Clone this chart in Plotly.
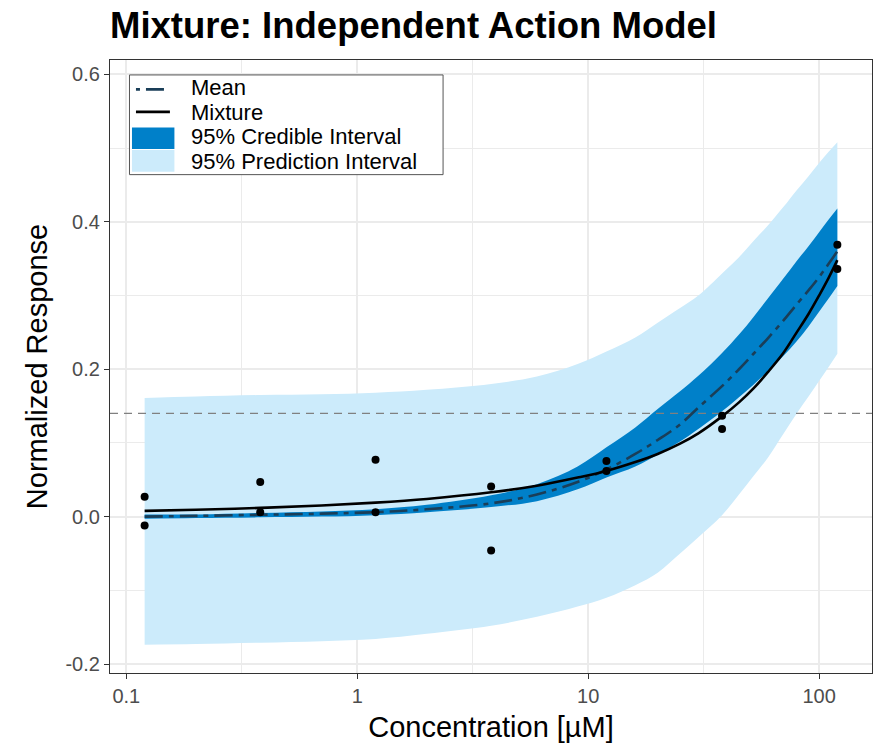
import numpy as np
import plotly.graph_objects as go

# Observed responses (two replicates per concentration)
obs_conc = [0.12, 0.12, 0.38, 0.38, 1.2, 1.2, 3.8, 3.8, 12, 12, 38, 38, 120, 120]
obs_resp = [0.027, -0.012, 0.047, 0.006, 0.077, 0.006, 0.041, -0.046,
            0.0755, 0.062, 0.137, 0.119, 0.369, 0.336]

# Model summaries on a concentration grid
grid_conc = [0.12, 0.2, 0.38, 0.7, 1.2, 2, 3.8, 6, 9, 12, 16, 20, 25, 30, 38,
             45, 52, 60, 70, 80, 90, 100, 110, 120]
pred_upper = [0.161, 0.163, 0.165, 0.166, 0.168, 0.172, 0.180, 0.190, 0.207, 0.224,
              0.243, 0.263, 0.283, 0.300, 0.330, 0.352, 0.374, 0.395, 0.420, 0.443,
              0.462, 0.480, 0.495, 0.508]
pred_lower = [-0.174, -0.173, -0.171, -0.169, -0.166, -0.159, -0.148, -0.136, -0.122,
              -0.110, -0.093, -0.076, -0.050, -0.028, 0.002, 0.030, 0.055, 0.080,
              0.112, 0.140, 0.163, 0.184, 0.203, 0.221]
cred_upper = [0.003, 0.003, 0.005, 0.007, 0.010, 0.016, 0.029, 0.044, 0.068, 0.094,
              0.121, 0.146, 0.170, 0.191, 0.222, 0.247, 0.271, 0.296, 0.323, 0.347,
              0.367, 0.386, 0.403, 0.418]
cred_lower = [-0.003, -0.002, -0.001, 0.000, 0.002, 0.006, 0.013, 0.021, 0.037, 0.053,
              0.068, 0.084, 0.102, 0.119, 0.143, 0.162, 0.179, 0.197, 0.218, 0.238,
              0.258, 0.278, 0.296, 0.313]
mean_resp = [0.000, 0.001, 0.0025, 0.004, 0.006, 0.010, 0.018, 0.030, 0.047, 0.064,
             0.085, 0.104, 0.125, 0.148, 0.177, 0.200, 0.221, 0.242, 0.266, 0.288,
             0.307, 0.325, 0.343, 0.360]
mixture_resp = [0.0078, 0.0093, 0.0118, 0.0150, 0.0190, 0.024, 0.033, 0.042, 0.053,
                0.062, 0.074, 0.085, 0.099, 0.113, 0.136, 0.155, 0.174, 0.196, 0.222,
                0.250, 0.275, 0.300, 0.324, 0.348]

threshold = 0.14

x_ticks = [0.1, 1, 10, 100]
x_ticktext = ["0.1", "1", "10", "100"]
x_minor = [0.316, 3.16, 31.6]
y_ticks = [-0.2, 0.0, 0.2, 0.4, 0.6]
y_ticktext = ["-0.2", "0.0", "0.2", "0.4", "0.6"]
y_minor = [-0.1, 0.1, 0.3, 0.5]

x_range = [-1.0708, 2.2292]   # log10 units
y_range = [-0.2122, 0.6196]

# colours
PRED_COL = "#CCEBFB"
CRED_COL = "#0080C9"
MEAN_COL = "#1A3E58"
MIX_COL = "black"

FONT = "Liberation Sans, Arial, sans-serif"
W, H = 882, 746
M_L, M_R, M_T, M_B = 110, 9, 60, 71
PW, PH = W - M_L - M_R, H - M_T - M_B

fig = go.Figure()

# 95% prediction interval band
fig.add_trace(go.Scatter(x=grid_conc, y=pred_lower, mode="lines", line=dict(width=0, shape="spline"),
                         hoverinfo="skip", showlegend=False))
fig.add_trace(go.Scatter(x=grid_conc, y=pred_upper, mode="lines", line=dict(width=0, shape="spline"),
                         fill="tonexty", fillcolor=PRED_COL, name="95% Prediction Interval",
                         showlegend=False))
# 95% credible interval band
fig.add_trace(go.Scatter(x=grid_conc, y=cred_lower, mode="lines", line=dict(width=0, shape="spline"),
                         hoverinfo="skip", showlegend=False))
fig.add_trace(go.Scatter(x=grid_conc, y=cred_upper, mode="lines", line=dict(width=0, shape="spline"),
                         fill="tonexty", fillcolor=CRED_COL, name="95% Credible Interval",
                         showlegend=False))
# reference threshold across the panel
fig.add_trace(go.Scatter(x=[10 ** x_range[0], 10 ** x_range[1]], y=[threshold, threshold],
                         mode="lines", line=dict(color="#808080", width=1.3, dash="8px,6px"),
                         hoverinfo="skip", showlegend=False))
# curves
fig.add_trace(go.Scatter(x=grid_conc, y=mean_resp, mode="lines", name="Mean",
                         line=dict(color=MEAN_COL, width=2.6, dash="18px,6px,5px,6px", shape="spline"),
                         showlegend=False))
fig.add_trace(go.Scatter(x=grid_conc, y=mixture_resp, mode="lines", name="Mixture",
                         line=dict(color=MIX_COL, width=2.6, shape="spline"),
                         showlegend=False))
# observations
fig.add_trace(go.Scatter(x=obs_conc, y=obs_resp, mode="markers",
                         marker=dict(color="black", size=8), showlegend=False))


# legend drawn in pixel units relative to the page
def px_x(px):
    return (px - M_L) / PW


def px_y(py):
    return (H - M_B - py) / PH


shapes = []
annotations = []
shapes.append(dict(type="rect", xref="paper", yref="paper",
                   x0=px_x(129.5), x1=px_x(443.5), y0=px_y(175), y1=px_y(75),
                   line=dict(color="#555555", width=1), fillcolor="white", layer="above"))
# (label, key kind, colour, dash, key centre, text centre)
legend_rows = [
    ("Mean", "line", MEAN_COL, "4px,6px,18px,6px", 89.5, 87.6),
    ("Mixture", "line", MIX_COL, "solid", 112, 112.4),
    ("95% Credible Interval", "rect", CRED_COL, None, 138.5, 137.2),
    ("95% Prediction Interval", "rect", PRED_COL, None, 161.2, 162.0),
]
for label, kind, col, dash, yk, yt in legend_rows:
    if kind == "line":
        shapes.append(dict(type="line", xref="paper", yref="paper",
                           x0=px_x(136), x1=px_x(170), y0=px_y(yk), y1=px_y(yk),
                           line=dict(color=col, width=2.6, dash=dash), layer="above"))
    else:
        shapes.append(dict(type="rect", xref="paper", yref="paper",
                           x0=px_x(132), x1=px_x(174.5), y0=px_y(yk + 10.8), y1=px_y(yk - 10.8),
                           line=dict(width=0), fillcolor=col, layer="above"))
    annotations.append(dict(text=label, xref="paper", yref="paper", x=px_x(189), y=px_y(yt),
                            xanchor="left", yanchor="middle", showarrow=False,
                            font=dict(family=FONT, size=22, color="black")))

axis_common = dict(
    showline=True, mirror=True, linecolor="#333333", linewidth=1.2,
    ticks="outside", ticklen=5, tickwidth=1.2, tickcolor="#333333",
    tickfont=dict(family=FONT, size=20, color="#4D4D4D"),
    showgrid=True, gridcolor="#EBEBEB", gridwidth=1.8, zeroline=False,
)

fig.update_layout(
    width=W, height=H,
    margin=dict(l=M_L, r=M_R, t=M_T, b=M_B, pad=0),
    paper_bgcolor="white", plot_bgcolor="white",
    font=dict(family=FONT, color="black"),
    title=dict(text="<b>Mixture: Independent Action Model</b>", xref="paper", x=0, xanchor="left",
               yref="container", y=1 - 25 / H, yanchor="middle",
               font=dict(family=FONT, size=36.5, color="black")),
    xaxis=dict(type="log", range=x_range, tickvals=x_ticks, ticktext=x_ticktext,
               minor=dict(tickvals=x_minor, showgrid=True, gridcolor="#EBEBEB", gridwidth=0.9, ticklen=0),
               title=dict(text="Concentration [µM]", font=dict(family=FONT, size=29, color="black"),
                          standoff=10),
               **axis_common),
    yaxis=dict(range=y_range, tickvals=y_ticks, ticktext=y_ticktext,
               minor=dict(tickvals=y_minor, showgrid=True, gridcolor="#EBEBEB", gridwidth=0.9, ticklen=0),
               title=dict(text="Normalized Response", font=dict(family=FONT, size=29, color="black"),
                          standoff=9),
               **axis_common),
    shapes=shapes, annotations=annotations,
    showlegend=False,
)

fig.write_html("out.html")
